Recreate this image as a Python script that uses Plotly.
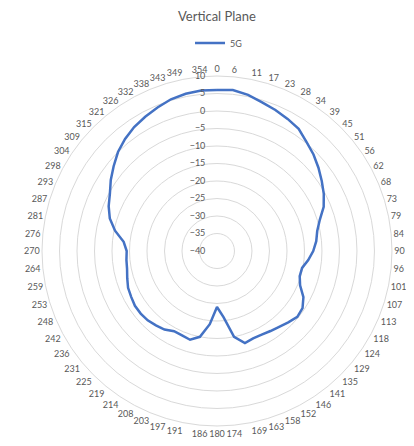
import plotly.graph_objects as go

categories = ["0", "6", "11", "17", "23", "28", "34", "39", "45", "51", "56", "62", "68", "73", "79", "84",
              "90", "96", "101", "107", "113", "118", "124", "129", "135", "141", "146", "152", "158", "163", "169", "174",
              "180", "186", "191", "197", "203", "208", "214", "219", "225", "231", "236", "242", "248", "253", "259", "264",
              "270", "276", "281", "287", "293", "298", "304", "309", "315", "321", "326", "332", "338", "343", "349", "354"]

values_5g = [6.0, 6.2, 5.5, 4.4, 3.6, 2.8, 2.0, 0.3, -1.0, -2.5, -4.0, -5.4, -7.0, -9.3, -10.8, -11.5,
             -12.5, -13.8, -15.2, -15.3, -14.3, -12.0, -10.6, -10.3, -11.2, -12.0, -12.5, -12.9, -13.0, -12.5, -15.0, -21.0,
             -24.0, -19.0, -15.0, -13.5, -13.9, -14.0, -13.0, -12.5, -12.0, -11.8, -11.8, -12.2, -12.5, -13.2, -13.8, -14.0,
             -14.2, -13.2, -10.3, -8.0, -6.5, -5.3, -3.5, -1.8, 0.0, 1.4, 2.6, 3.5, 4.4, 5.3, 5.8, 6.1]

radial_ticks = [-40, -35, -30, -25, -20, -15, -10, -5, 0, 5, 10]

n = len(categories)
theta = [i * 360.0 / n for i in range(n)]

fig = go.Figure()
fig.add_trace(go.Scatterpolar(
    r=values_5g + values_5g[:1],
    theta=theta + theta[:1],
    mode="lines",
    name="5G",
    line=dict(color="#4472C4", width=2.5),
))

fig.update_layout(
    width=414, height=446,
    margin=dict(l=0, r=0, t=0, b=0),
    paper_bgcolor="white",
    font=dict(family="Lato, Open Sans, sans-serif", color="#595959"),
    title=dict(text="Vertical Plane", x=0.5048, xanchor="center", y=0.980, yanchor="middle",
               font=dict(size=13, color="#595959")),
    showlegend=True,
    legend=dict(orientation="h", x=0.5097, xanchor="center", y=0.9215, yanchor="middle",
                font=dict(size=9, color="#595959"), itemwidth=30),
    polar=dict(
        domain=dict(x=[0.0821, 0.9275], y=[0.0628, 0.8475]),
        bgcolor="white",
        angularaxis=dict(
            direction="clockwise", rotation=90,
            tickvals=theta, ticktext=categories,
            showgrid=False, showline=True, linecolor="#D9D9D9", linewidth=1,
            ticks="", tickfont=dict(size=9, color="#595959"),
        ),
        radialaxis=dict(
            range=[-40, 10], angle=90, tickangle=90,
            tickvals=radial_ticks,
            ticks="outside", ticklen=8, tickcolor="rgba(0,0,0,0)",
            showgrid=True, gridcolor="#D9D9D9", gridwidth=1,
            showline=False, side="counterclockwise",
            tickfont=dict(size=9, color="#595959"),
        ),
    ),
)

fig.write_html("out.html")
